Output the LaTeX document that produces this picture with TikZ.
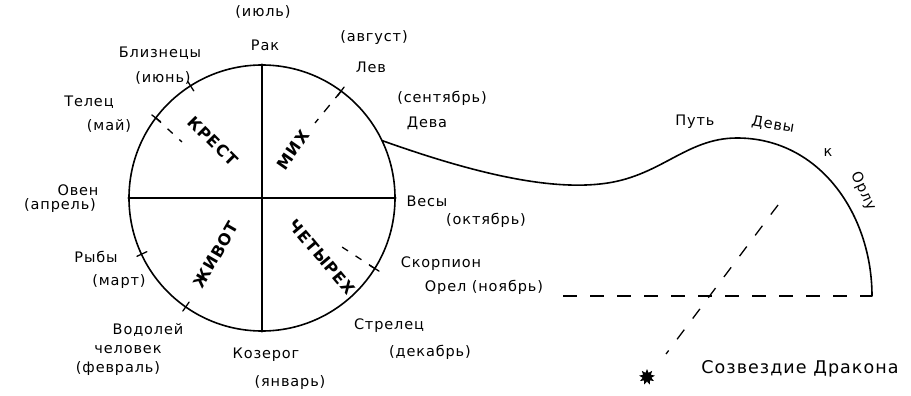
\documentclass[tikz,border=0pt]{standalone}
\usepackage{fontspec}
\setmainfont{DejaVu Sans}[LetterSpace=6]
\usetikzlibrary{shapes.geometric}
\begin{document}
\begin{tikzpicture}[x=1pt,y=-1pt,
  hand/.style={line width=1.6pt, line cap=round, line join=round},
  thinline/.style={line width=1.3pt, line cap=round},
  dashline/.style={line width=1.3pt, dash pattern=on 9pt off 9pt},
  lbl/.style={inner sep=0pt, font=\fontsize{14.5}{14.5}\selectfont},
  inlbl/.style={inner sep=0pt, font=\bfseries\fontsize{16}{16}\selectfont}]
\useasboundingbox (0,0) rectangle (911,396);
% circle
\node[circle, draw, hand, minimum size=266pt, inner sep=0pt] (c) at (262,198) {};
\coordinate (top) at (c.north);
\coordinate (bot) at (c.south);
\coordinate (lft) at (c.west);
\coordinate (rgt) at (c.east);
\draw[hand] (top) -- (bot);
\draw[hand] (lft) -- (rgt);
% ticks on the circle
\foreach \a in {53.5,122.5,143,205,235,328}
  \draw[thinline] ([shift={(262,198)}]-\a:127) -- ([shift={(262,198)}]-\a:138);
% dashed radial marks
\coordinate (levT) at ([shift={(262,198)}]-53.5:133);
\coordinate (levI) at (315,123);
\draw[dashline] (levT) -- (levI);
\coordinate (telT) at ([shift={(262,198)}]-143:133);
\coordinate (telI) at (182,142);
\draw[dashline, dash pattern=on 7pt off 9pt] (telT) -- (telI);
\coordinate (skT) at ([shift={(262,198)}]-328:133);
\coordinate (skI) at (342,247);
\draw[dashline, dash pattern=on 7pt off 9pt] (skT) -- (skI);
% path of Virgo
\coordinate (dv) at ([shift={(262,198)}]-25.6:133);
\coordinate (mid) at (600,184);
\coordinate (peak) at (737,138);
\coordinate (endp) at (872,296);
\draw[hand] (dv) .. controls (470,172) and (545,190) .. (mid)
  .. controls (660,178) and (685,138) .. (peak)
  .. controls (820,138) and (872,215) .. (endp);
\coordinate (hl) at (563,296);
\draw[dashline, dash pattern=on 14pt off 13pt] (hl) -- (endp);
\coordinate (d1) at (778,205);
\coordinate (d2) at (666,354);
\draw[dashline, dash pattern=on 12pt off 14pt] (d1) -- (d2);
\node[star, star points=9, star point ratio=1.8, fill=black, minimum size=16pt, inner sep=0pt] (st) at (647,377) {};
% inner labels
\node[inlbl, rotate=-45] (krest) at (213,141) {КРЕСТ};
\node[inlbl, rotate=55] (mih) at (293,150) {МИХ};
\node[inlbl, rotate=60] (zhivot) at (216,255) {ЖИВОТ};
\node[inlbl, rotate=-50] (chet) at (322,257) {ЧЕТЫРЕХ};
% outer labels
\node[lbl] (jul) at (263,12) {(июль)};
\node[lbl] (rak) at (265,45) {Рак};
\node[lbl] (bliz) at (160,53) {Близнецы};
\node[lbl] (jun) at (163,78) {(июнь)};
\node[lbl] (telec) at (89,102) {Телец};
\node[lbl] (may) at (109,126) {(май)};
\node[lbl] (oven) at (78,190) {Овен};
\node[lbl] (apr) at (60,206) {(апрель)};
\node[lbl] (ryby) at (96,257) {Рыбы};
\node[lbl] (mart) at (119,282) {(март)};
\node[lbl] (vodol) at (148,330) {Водолей};
\node[lbl] (chel) at (128,350) {человек};
\node[lbl] (fev) at (118,369) {(февраль)};
\node[lbl] (koz) at (266,355) {Козерог};
\node[lbl] (yanv) at (290,383) {(январь)};
\node[lbl] (strel) at (389,326) {Стрелец};
\node[lbl] (dek) at (430,352) {(декабрь)};
\node[lbl] (skorp) at (441,264) {Скорпион};
\node[lbl] (orel) at (484,287) {Орел (ноябрь)};
\node[lbl] (vesy) at (427,201) {Весы};
\node[lbl] (okt) at (486,220) {(октябрь)};
\node[lbl] (sent) at (442,98) {(сентябрь)};
\node[lbl] (deva) at (427,123) {Дева};
\node[lbl] (avg) at (374,38) {(август)};
\node[lbl] (lev) at (371,67) {Лев};
\node[lbl] (put) at (695,122) {Путь};
\node[lbl, rotate=-10] (devy) at (773,125) {Девы};
\node[lbl] (kk) at (828,153) {к};
\node[lbl, rotate=-65] (orlu) at (863,191) {Орлу};
\node[lbl, font=\fontsize{17.5}{17.5}\selectfont] (sozv) at (800,369) {Созвездие Дракона};
\end{tikzpicture}
\end{document}
